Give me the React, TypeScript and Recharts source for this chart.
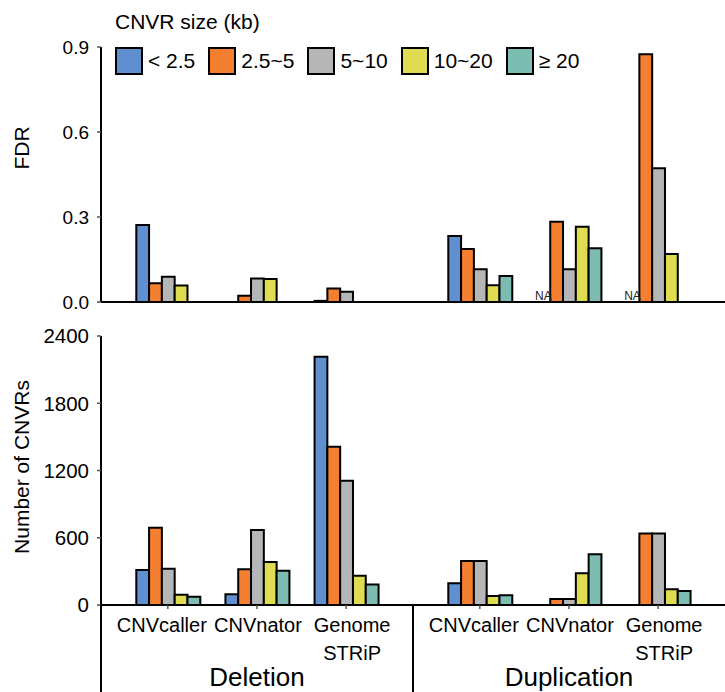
import React from "react";
import { BarChart, Bar, XAxis, YAxis } from "recharts";

// order of every series: Deletion (CNVcaller, CNVnator, Genome STRiP), Duplication (same)
const groups = ["Deletion", "Duplication"];
const methods = ["CNVcaller", "CNVnator", "Genome\nSTRiP"];
const sizeBins = ["< 2.5", "2.5~5", "5~10", "10~20", "≥ 20"];
const binColors = ["#5f8fcf", "#f47f30", "#b5b6b8", "#e0dc52", "#7dbcb0"];

// FDR, null = not available (NA)
const fdrLt2_5 = [0.272, 0, 0.004, 0.233, null, null];
const fdr2_5to5 = [0.066, 0.022, 0.048, 0.187, 0.283, 0.874];
const fdr5to10 = [0.089, 0.083, 0.036, 0.116, 0.116, 0.472];
const fdr10to20 = [0.058, 0.081, 0, 0.059, 0.266, 0.169];
const fdrGe20 = [0, 0, 0, 0.092, 0.19, 0];

// number of CNVRs
const cntLt2_5 = [312, 95, 2215, 193, 0, 0];
const cnt2_5to5 = [690, 318, 1412, 392, 54, 639];
const cnt5to10 = [324, 669, 1109, 392, 54, 639];
const cnt10to20 = [92, 384, 262, 80, 283, 140];
const cntGe20 = [74, 306, 184, 86, 452, 125];

const fdrTicks = [0, 0.3, 0.6, 0.9];
const cntTicks = [0, 600, 1200, 1800, 2400];

const binKeys = ["b0", "b1", "b2", "b3", "b4"];
const fdrSeries = [fdrLt2_5, fdr2_5to5, fdr5to10, fdr10to20, fdrGe20];
const cntSeries = [cntLt2_5, cnt2_5to5, cnt5to10, cnt10to20, cntGe20];

const BAR_SIZE = 12.8;
// label nudges so the method names sit like the original's wrapped labels
const methodLabelDx = [-6, 1, 6];

// each group takes 7 slots on the x scale, methods 2 slots apart
const SLOTS_PER_GROUP = 7;
const slotOf = (g: number, m: number) => g * SLOTS_PER_GROUP + m * 2 + 1.5;

function buildRows(series: (number | null)[][]) {
  const rows: any[] = [];
  groups.forEach((group, g) => {
    methods.forEach((method, m) => {
      const i = g * methods.length + m;
      const row: any = { pos: slotOf(g, m), group, method };
      series.forEach((s, k) => {
        row[binKeys[k]] = s[i] ?? 0;
      });
      row.na = series[0][i] === null;
      rows.push(row);
    });
  });
  return rows;
}

const fdrRows = buildRows(fdrSeries);
const cntRows = buildRows(cntSeries);

const tickInfo = new Map<number, { method?: number; group?: string; boundary?: boolean }>();
groups.forEach((group, g) => {
  const start = g * SLOTS_PER_GROUP;
  tickInfo.set(start, { ...(tickInfo.get(start) || {}), boundary: true });
  const mid = start + SLOTS_PER_GROUP / 2;
  tickInfo.set(mid, { ...(tickInfo.get(mid) || {}), group });
  methods.forEach((_, m) => {
    const p = slotOf(g, m);
    tickInfo.set(p, { ...(tickInfo.get(p) || {}), method: m });
  });
});
const xTicks = Array.from(tickInfo.keys()).sort((a, b) => a - b);
const methodSlots = fdrRows.map((r) => r.pos);

function CategoryTick({ x, y, payload }: any) {
  const info = tickInfo.get(payload.value) || {};
  const hasMethod = info.method !== undefined;
  return (
    <g>
      {info.boundary && <line x1={x} y1={y} x2={x} y2={y + 87} stroke="#000" strokeWidth={2} />}
      {hasMethod && <line x1={x} y1={y} x2={x} y2={y + 4} stroke="#555" strokeWidth={1.5} />}
      {hasMethod &&
        methods[info.method!].split("\n").map((line, k) => (
          <text
            key={k}
            x={x + methodLabelDx[info.method!]}
            y={y + 27 + k * 28}
            textAnchor="middle"
            fontSize={20}
            fill="#000"
          >
            {line}
          </text>
        ))}
      {info.group && (
        <text x={x} y={y + 81} textAnchor="middle" fontSize={26} fill="#000">
          {info.group}
        </text>
      )}
    </g>
  );
}

// "NA" sits in the empty slot of the first size bin
function NaTick({ x, y, payload }: any) {
  const row = fdrRows.find((r) => r.pos === payload.value);
  if (!row || !row.na) return <g />;
  return (
    <text x={x - 2 * BAR_SIZE} y={y - 2} textAnchor="middle" fontSize={12} fill="#222">
      NA
    </text>
  );
}

const axisLine = { stroke: "#000", strokeWidth: 2 };

export default function App() {
  return (
    <div
      style={{
        position: "absolute",
        left: 0,
        top: 0,
        width: 725,
        height: 692,
        background: "#fff",
        fontFamily: "'Liberation Sans', Arial, sans-serif",
        color: "#000",
        overflow: "hidden",
      }}
    >
      <BarChart
        width={725}
        height={320}
        data={fdrRows}
        margin={{ top: 47, right: 0, bottom: 16, left: 0 }}
        barGap={0}
        barSize={BAR_SIZE}
      >
        <XAxis
          type="number"
          dataKey="pos"
          domain={[0, 14]}
          ticks={methodSlots}
          interval={0}
          height={2}
          tickSize={0}
          tickMargin={0}
          tickLine={false}
          tick={<NaTick />}
          axisLine={axisLine}
        />
        <YAxis
          width={101}
          domain={[0, 0.9]}
          ticks={fdrTicks}
          interval={0}
          tickFormatter={(v: number) => v.toFixed(1)}
          tick={{ fill: "#000", fontSize: 19 }}
          tickSize={4}
          tickMargin={8}
          tickLine={{ stroke: "#555", strokeWidth: 1.5 }}
          axisLine={axisLine}
        />
        {binKeys.map((key, k) => (
          <Bar key={key} dataKey={key} fill={binColors[k]} stroke="#000" strokeWidth={2} isAnimationActive={false} />
        ))}
      </BarChart>

      <div style={{ position: "absolute", top: 310, left: 0 }}>
        <BarChart
          width={725}
          height={382}
          data={cntRows}
          margin={{ top: 26, right: 0, bottom: 0, left: 0 }}
          barGap={0}
          barSize={BAR_SIZE}
        >
          <XAxis
            type="number"
            dataKey="pos"
            domain={[0, 14]}
            ticks={xTicks}
            interval={0}
            height={87}
            tickSize={0}
            tickMargin={0}
            tickLine={false}
            tick={<CategoryTick />}
            axisLine={axisLine}
          />
          <YAxis
            width={101}
            domain={[0, 2400]}
            ticks={cntTicks}
            interval={0}
            tick={{ fill: "#000", fontSize: 20.5 }}
            tickSize={4}
            tickMargin={8}
            tickLine={{ stroke: "#555", strokeWidth: 1.5 }}
            axisLine={axisLine}
          />
          {binKeys.map((key, k) => (
            <Bar key={key} dataKey={key} fill={binColors[k]} stroke="#000" strokeWidth={2} isAnimationActive={false} />
          ))}
        </BarChart>
      </div>

      {/* legend */}
      <div style={{ position: "absolute", left: 115, top: 10, fontSize: 21, lineHeight: "24px", whiteSpace: "nowrap" }}>
        CNVR size (kb)
      </div>
      <div style={{ position: "absolute", left: 115, top: 47, display: "flex", alignItems: "center", gap: 13 }}>
        {sizeBins.map((label, k) => (
          <div key={label} style={{ display: "flex", alignItems: "center", gap: 5 }}>
            <span
              style={{
                display: "inline-block",
                width: 24,
                height: 24,
                border: "2px solid #000",
                background: binColors[k],
              }}
            />
            <span style={{ fontSize: 21, lineHeight: "28px", whiteSpace: "nowrap" }}>{label}</span>
          </div>
        ))}
      </div>

      {/* axis titles */}
      <div
        style={{
          position: "absolute",
          left: 22,
          top: 148,
          transform: "translate(-50%, -50%) rotate(-90deg)",
          fontSize: 21,
          whiteSpace: "nowrap",
        }}
      >
        FDR
      </div>
      <div
        style={{
          position: "absolute",
          left: 22,
          top: 467,
          transform: "translate(-50%, -50%) rotate(-90deg)",
          fontSize: 21,
          whiteSpace: "nowrap",
        }}
      >
        Number of CNVRs
      </div>
    </div>
  );
}
